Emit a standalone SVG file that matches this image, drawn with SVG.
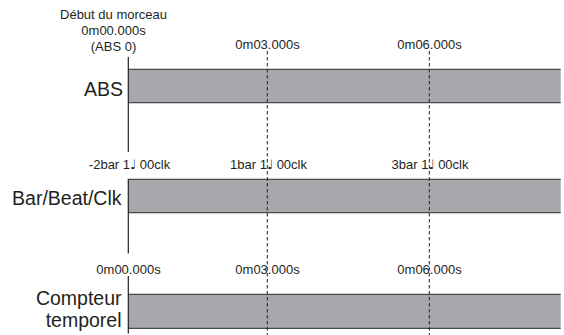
<svg xmlns="http://www.w3.org/2000/svg" width="564" height="335" viewBox="0 0 564 335">
<style>
text{font-family:"Liberation Sans","DejaVu Sans",Arial,sans-serif;fill:#231f20}
.sm{font-size:13px;text-anchor:middle}
.lg{font-size:19.5px;text-anchor:end}
.note{font-family:"DejaVu Sans",sans-serif;font-size:13px}
.bar{fill:#a7a8ab}
.edge{stroke:#4a4a4a;stroke-width:1.2;fill:none}
.axis{stroke:#231f20;stroke-width:1.2;fill:none}
.dash{stroke:#231f20;stroke-width:1;stroke-dasharray:3.5 2.5;fill:none}
</style>
<rect width="564" height="335" fill="#fff"/>
<g id="header">
<text class="sm" x="113.5" y="18.5">Début du morceau</text>
<text class="sm" x="113.5" y="35">0m00.000s</text>
<text class="sm" x="113.5" y="51">(ABS 0)</text>
</g>
<g id="row-abs">
<rect class="bar" x="128.3" y="69.3" width="432.4" height="33.4"/>
<line class="edge" x1="128.3" y1="69.3" x2="560.7" y2="69.3"/>
<line class="edge" x1="128.3" y1="102.7" x2="560.7" y2="102.7"/>
<text class="lg" x="123" y="96">ABS</text>
<text class="sm" x="267.5" y="49.3">0m03.000s</text>
<text class="sm" x="429.5" y="49.3">0m06.000s</text>
</g>
<g id="row-bar">
<rect class="bar" x="128.3" y="179.3" width="432.4" height="33.4"/>
<line class="edge" x1="128.3" y1="179.3" x2="560.7" y2="179.3"/>
<line class="edge" x1="128.3" y1="212.7" x2="560.7" y2="212.7"/>
<text class="lg" x="121.5" y="205">Bar/Beat/Clk</text>
<text class="sm" x="129.5" y="169">-2bar 1<tspan class="note">♩</tspan> 00clk</text>
<text class="sm" x="268.5" y="169">1bar 1<tspan class="note">♩</tspan> 00clk</text>
<text class="sm" x="430" y="169">3bar 1<tspan class="note">♩</tspan> 00clk</text>
</g>
<g id="row-counter">
<rect class="bar" x="128.3" y="294.3" width="432.4" height="34"/>
<line class="edge" x1="128.3" y1="294.3" x2="560.7" y2="294.3"/>
<line class="edge" x1="128.3" y1="328.3" x2="560.7" y2="328.3"/>
<text class="lg" x="121.5" y="305">Compteur</text>
<text class="lg" x="121.5" y="327">temporel</text>
<text class="sm" x="128.5" y="274">0m00.000s</text>
<text class="sm" x="267.5" y="274">0m03.000s</text>
<text class="sm" x="429.5" y="274">0m06.000s</text>
</g>
<g id="connectors">
<line class="axis" x1="128.3" y1="57" x2="128.3" y2="152"/>
<line class="axis" x1="128.3" y1="179" x2="128.3" y2="253.5"/>
<line class="axis" x1="128.3" y1="276" x2="128.3" y2="333.5"/>
<line class="dash" x1="267.3" y1="51" x2="267.3" y2="335"/>
<line class="dash" x1="429.3" y1="51" x2="429.3" y2="335"/>
</g>
</svg>
